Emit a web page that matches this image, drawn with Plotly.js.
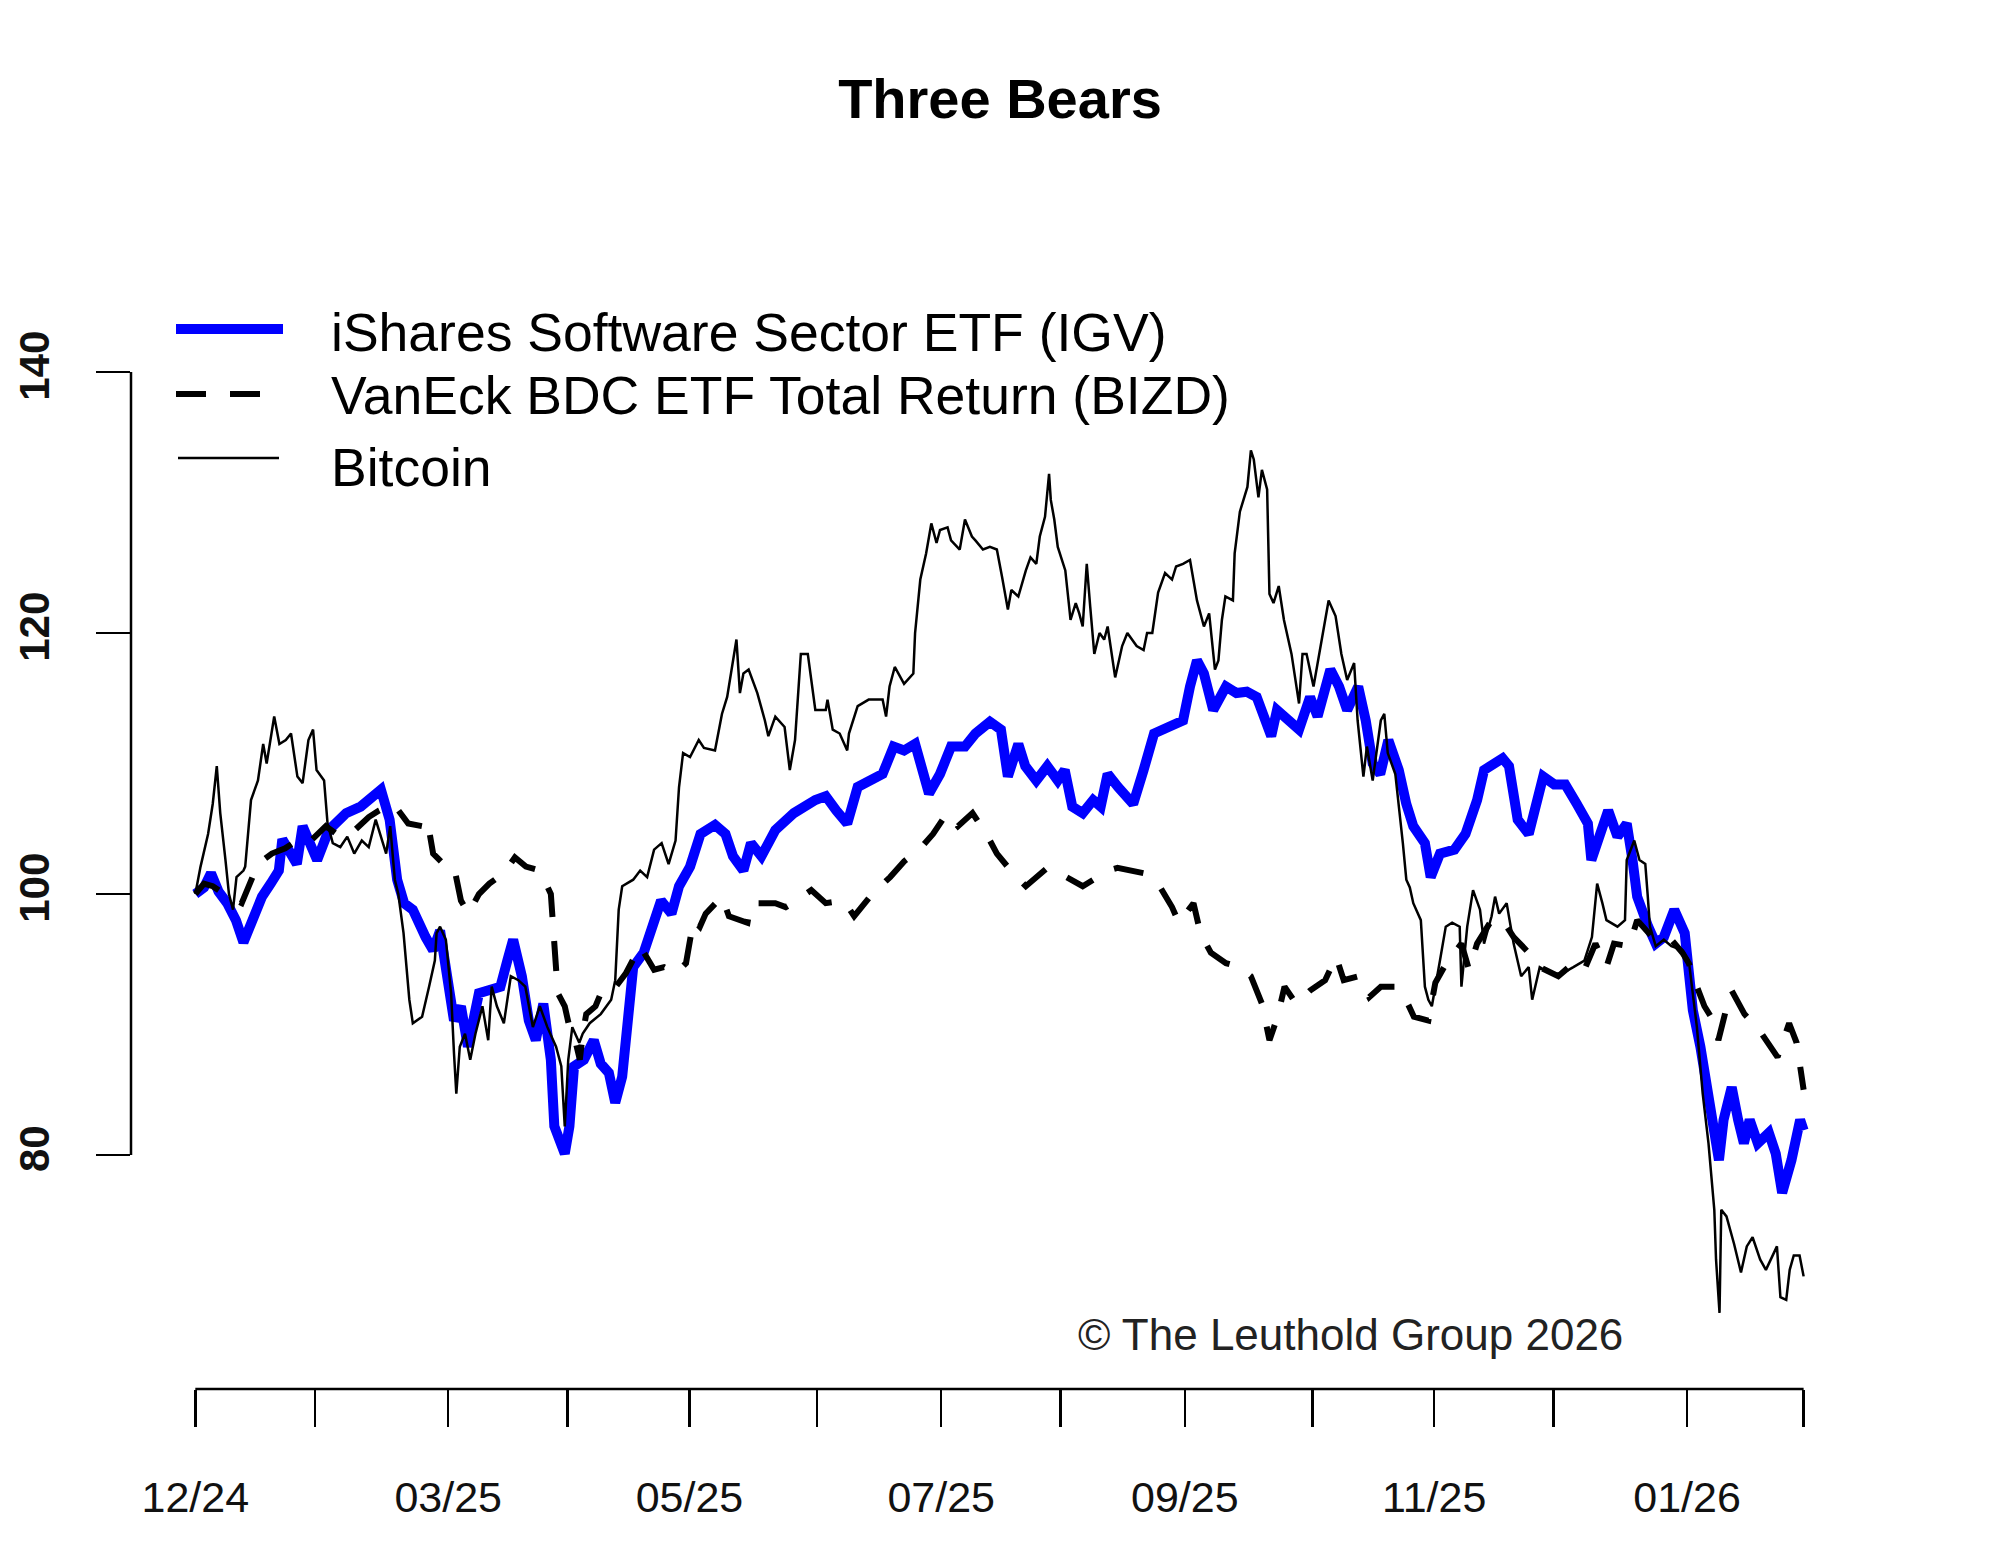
<!DOCTYPE html>
<html>
<head>
<meta charset="utf-8">
<script src="https://cdn.plot.ly/plotly-3.0.1.min.js"></script>
<style>html,body{margin:0;padding:0;background:#fff;}#chart{width:2000px;height:1556px;}</style>
</head>
<body>
<div id="chart"></div>
<script>
// x = trading-day index since 12/31/2024
const TICK_DAYS = [0, 20.6, 43.6, 64.2, 85.2, 107.2, 128.6, 149.2, 170.6, 192.6, 213.6, 234.2, 257.2, 277.3];
const TICK_TEXT = ["12/24", "", "03/25", "", "05/25", "", "07/25", "", "09/25", "", "11/25", "", "01/26", ""];
const Y_TICKS = [80, 100, 120, 140];

const IGV_DAY = [0,1.5,2.7,4,5.5,7,8.3,10,11.5,13,14.4,15,17.5,18.5,20,21,23,26,28.5,32,33.5,34.8,36,37.5,39.7,41,42.2,43.4,44.6,45.8,47,48.9,50.7,52.6,53.8,54.8,56.3,57.5,58.7,60,61.3,61.9,63.7,64.5,65.3,67,68.7,69.9,71.3,72.4,73.6,74.5,75.5,77.3,79,80.3,82.1,83.4,85.3,85.9,87.1,89.6,91.4,92.7,94.5,95.8,97.6,100,103.2,106.9,108.7,110.5,112.4,114.2,116.1,118.5,120.4,122.2,124.1,125.3,126.5,128.4,130.3,132.7,134.5,137,138.9,140.1,141.9,143.1,145,146.9,148.7,149.9,151.2,153,154.8,156.1,157.3,159.1,161.7,163.5,165.3,167.8,170.3,171.5,172.7,173.9,175.5,177.7,179.5,181.3,183,185.5,186.5,190.3,192.2,193.5,195.7,197.2,198.6,200.5,201.8,203,204.3,205.7,207.5,208.8,210,212,213,214.6,217.1,219,221,222.2,224.1,225.4,226.5,228,229.9,231.2,232.4,234.3,236.2,238.2,240.1,240.7,242,243.6,245.2,246.8,247.8,248.6,250.5,251.8,253.2,255,256.8,257.5,258.2,259.5,260.8,262,262.7,263.5,264.9,266,267,268,269.4,271.3,272.5,273.6,275.2,276.7,277.3];
const IGV_VAL = [100,100.5,101.6,100.2,99.3,98,96.3,98.2,99.8,100.8,101.8,104.2,102.3,105.2,103.5,102.6,104.9,106.2,106.7,108,105.7,101.1,99.3,98.8,96.7,95.7,97.2,93.7,90.3,91.4,88.3,92.4,92.6,92.9,94.9,96.5,93.7,90.3,88.8,91.6,87.3,82.2,80.1,82.2,86.8,87.3,88.8,87,86.3,84,86,91.1,94.4,95.5,97.5,99.5,98.5,100.6,102.1,102.9,104.6,105.3,104.6,102.9,101.8,103.9,102.9,104.9,106.2,107.2,107.5,106.4,105.4,108.2,108.7,109.2,111.3,111,111.5,109.2,107.7,109.2,111.3,111.3,112.3,113.2,112.6,109,111.5,109.8,108.7,109.8,108.7,109.5,106.7,106.2,107.2,106.7,109.2,108.2,106.9,109.5,112.3,112.8,113.3,115.9,117.9,116.9,114.1,115.9,115.4,115.5,115.1,112.1,114.1,112.6,115.1,113.6,117.2,115.9,114.1,115.9,113.3,110,109.2,111.8,109.5,106.9,105.2,103.9,101.3,103.1,103.4,104.6,107.2,109.5,110,110.4,109.8,105.7,104.6,107.2,109,108.4,108.4,106.9,105.4,102.6,104.4,106.4,104.4,105.4,102.6,99.8,97.5,96.2,96.7,98.8,97,94.4,91.1,88.3,84.7,82.2,79.6,82.7,85.2,82.7,80.9,82.7,80.9,81.7,80.1,77.1,79.6,82.7,81.9];

const BIZD_DAY = [0,1.5,3,5,8,10.8,13.2,15.5,17.5,19.5,22.5,25,27.5,29.9,31.7,34.2,36.7,39.1,40,41,42.8,44.6,45.8,47.1,48.9,50.7,53.2,55.1,57,59.4,61.3,61.9,62.5,63.7,64.5,65.6,66.3,66.8,67.4,69,70.4,72.5,74.2,76.7,79.1,80.8,82.8,84.6,85.9,87,88,90.8,92,95.2,95.8,100,101.8,103,106.2,108.7,111.8,113.6,116.7,119.8,122.2,124.8,127.2,129.6,131.5,134,136.4,138.2,140.6,143.2,146.9,148.1,153,157.4,159,163.5,166,168.4,169.6,172.1,173.3,175.1,177.7,180.1,182,183.9,185.2,186.6,187.8,189.8,192.2,194.8,196.7,198,200.5,202.4,204.4,206.8,208,210.1,212.6,213.8,215.7,218.3,219.6,221,223.5,225.4,227.3,229.9,231.8,235,237.6,239.5,241.4,243.3,244.6,247.2,248.6,251.2,254.5,256.4,257.5,258.9,260.2,262,262.6,263.9,264.9,267.1,269.6,272.8,274.8,276.1,276.8,277.3];
const BIZD_VAL = [100,100.8,100.6,100,99.3,102.3,103.1,103.5,104.1,103.9,105.2,104.4,104.9,105.9,106.4,106.9,105.4,105.2,105.7,103.1,102.3,102.1,99.5,98.5,100,100.8,101.6,102.8,102.1,101.8,100,95.5,92.4,91.4,89.8,88.6,87.3,89.3,90.8,91.4,92.9,92.9,93.9,96,94.2,94.4,93.9,94.7,98,97.5,98.5,99.8,98.3,97.8,99.3,99.3,99,99.3,100.3,99.3,99.5,98.3,100,101.3,102.5,103.4,104.6,106.2,105.2,106.2,104.6,103.1,101.8,100.6,102,101.8,100.6,101.8,102,101.6,100.8,99,97.8,99.3,97,95.5,94.7,94.4,93.7,91.6,88.8,90.6,92.9,91.6,92.6,93.4,95.2,93.4,93.7,92.1,92.9,92.9,92.6,90.6,90.3,93.2,94.7,96.2,94.2,96.2,98,98,96.7,95.5,94.4,93.7,94.7,94.2,96.2,94.4,96.2,96,98,96.7,96.5,95.5,94.7,92.9,91.4,90.1,88.8,91.1,92.6,90.8,89.6,87.5,90.1,88.6,86.3,85];

const BTC_DAY = [0,0.9,2.2,3,3.7,4.3,5.2,5.8,6.5,7.1,8.3,8.6,9.6,10.8,11.7,12.3,13.6,14.5,15.6,16.5,17.6,18.5,19.5,20.3,20.9,22.2,22.8,23.7,25,26.2,27.4,28.7,29.9,31.1,32.9,33.6,34.4,35,35.9,36.9,37.5,39.1,40.3,41.3,41.6,42.2,43.2,44.1,44.6,45,45.6,46.5,47.4,48.3,49.5,50.5,51.1,52,53.2,54.4,55.7,56.9,58.2,59.4,60.7,62.2,63.1,63.7,64.3,65,66.2,66.8,68,69.9,71.7,72.4,73,73.6,75.5,76.7,77.9,79.1,80.4,81.6,82.8,83.4,84.1,85.3,86.8,87.7,89.6,90.8,91.7,92.7,93.3,93.9,94.5,95.4,96.9,98.2,98.8,100,101.6,102.5,103.4,104.4,105.6,106.9,108.7,109,109.9,111.1,112.4,112.7,114.2,116.1,118.5,119.1,119.7,120.6,122.2,123.8,124.1,125,126,126.9,127.8,128.4,129.7,130.3,131.8,132.7,133.9,134.5,135.8,137,138.2,139.1,140.1,140.7,141.9,143.2,144,145,145.6,146.5,147.2,147.5,148.1,148.7,150,150.6,150.9,151.8,152.4,153,153.7,154.3,155,155.9,156.7,157.3,158.6,159.8,160.7,162.3,163.5,164.1,165,166,167.2,168.4,169.1,170.3,171.5,172.7,173.9,174.8,175.8,176.4,177,177.6,178.9,179.2,180.1,181.4,182,182.5,183.3,183.9,184.8,185.2,185.9,186.8,187.7,189,190.3,190.9,191.6,192.8,193.8,195.4,196.6,197.6,198.6,199.8,200.4,201.4,202,203,204.4,205,205.6,206.9,208.2,208.8,209.4,210,211.3,212,212.6,213.2,214.6,215.6,216.7,218,218.3,219.3,220.3,221.5,222.2,223.5,224.1,224.8,226.1,227.3,228.6,229.9,230.5,231.8,233.7,235.6,237.6,239.5,240.8,241.7,242.6,243.3,245.2,246.5,246.8,248.1,249,250,250.4,250.8,251.8,253.2,254.5,256.4,257.5,258.9,259.9,260.9,261.9,262.2,262.8,263.1,264,265.3,266.5,267.5,268.5,269.8,270.8,271.7,272.7,273.3,274.3,274.9,275.6,276.6,277.3];
const BTC_VAL = [100,102.1,104.6,106.9,109.8,106.2,102.6,100,98.8,101.3,101.8,102.1,107.2,108.7,111.5,110,113.6,111.5,111.8,112.3,109,108.5,111.8,112.6,109.5,108.7,105.4,103.9,103.6,104.4,103.1,104.1,103.6,105.7,103.1,105.2,101.1,100,97,91.9,90.1,90.6,92.9,94.9,97,97.5,96.5,92.4,87.8,84.7,88.3,89.3,87.3,89.3,91.4,88.8,92.9,91.4,90.1,93.7,93.4,92.9,89.8,91.4,89.8,88.3,86.8,82.2,87.3,89.8,88.6,89.3,90.1,90.8,91.9,93.4,98.8,100.6,101.1,101.8,101.3,103.4,103.9,102.3,104.1,108.2,110.8,110.5,111.8,111.2,111,113.8,115.1,117.9,119.5,115.4,116.9,117.2,115.4,113.3,112.1,113.6,112.8,109.5,111.8,118.4,118.4,114.1,114.1,114.9,112.6,112.3,111,112.3,114.4,114.9,114.9,113.6,115.9,117.4,116.1,116.9,120,124.1,126.1,128.4,126.9,127.9,128.1,127.1,126.4,128.7,127.4,127.1,126.4,126.6,126.4,124.3,121.8,123.3,122.8,124.8,125.8,125.3,127.4,128.9,132.2,130.2,128.7,126.6,124.8,122.3,121,122.3,121.5,120.5,125.3,122,118.4,120,119.5,120.5,116.6,119,120,119,118.7,120,120,123.1,124.6,124.1,125.1,125.3,125.6,122.5,120.5,121.5,117.2,117.9,121,122.8,122.5,126.1,129.3,131.2,134,133.3,130.4,132.5,131,123,122.3,123.6,121,118.4,114.6,118.4,118.4,115.9,118.4,122.5,121.3,118.4,116.4,117.7,113.3,109,111.3,108.7,113.3,113.8,110.8,109.2,103.9,101.1,100.5,99.3,98,92.9,91.9,91.4,94.9,97.5,97.8,97.5,92.9,97.5,100.3,98.8,96.2,98.3,99.8,98.5,99.3,96.2,93.7,94.4,91.9,94.4,93.9,93.9,94.4,94.9,96.7,100.8,99.3,98,97.5,98,102.6,104.1,102.6,102.3,100,97.5,96,96.5,96,95.7,94.9,89.8,84.7,80.9,75.8,72,67.9,75.8,75.3,73.2,71,73,73.7,72,71.2,72,73,69.1,68.9,71.2,72.3,72.3,70.7];

const NAMES = ["iShares Software Sector ETF (IGV)", "VanEck BDC ETF Total Return (BIZD)", "Bitcoin"];

const FONT = "Liberation Sans, Arial, Helvetica, sans-serif";
const DASH = "30px,24px";

// layout helpers (pixel -> paper)
const Y_MIN = 62.07, Y_MAX = 141;
const L = 131, R = 1868, B = 1389;
const T = Math.round(B - (Y_MAX - Y_MIN) * 13.05);
const PX = x => (x - L) / (R - L);
const PY = y => (B - y) / (B - T);

const traces = [
  {x: IGV_DAY, y: IGV_VAL, type: 'scatter', mode: 'lines', name: NAMES[0],
   line: {color: '#0000FF', width: 10}},
  {x: BIZD_DAY, y: BIZD_VAL, type: 'scatter', mode: 'lines', name: NAMES[1],
   line: {color: '#000000', width: 6, dash: DASH}},
  {x: BTC_DAY, y: BTC_VAL, type: 'scatter', mode: 'lines', name: NAMES[2],
   line: {color: '#000000', width: 2.5}}
];

const legendRows = [
  {x0: 176, x1: 283, y: 329, ty: 333, color: '#0000FF', width: 10, dash: 'solid'},
  {x0: 176, x1: 263, y: 394, ty: 395, color: '#000000', width: 6, dash: DASH},
  {x0: 178, x1: 279, y: 458, ty: 467, color: '#000000', width: 2.5, dash: 'solid'}
];

const shapes = [
  {type: 'line', xref: 'x', yref: 'paper', x0: TICK_DAYS[0], x1: TICK_DAYS[TICK_DAYS.length - 1], y0: 0, y1: 0,
   line: {color: '#000', width: 2.5}},
  {type: 'line', xref: 'paper', yref: 'y', x0: 0, x1: 0, y0: Y_TICKS[0], y1: Y_TICKS[Y_TICKS.length - 1],
   line: {color: '#000', width: 2.5}}
];
const annotations = [];
legendRows.forEach((r, i) => {
  shapes.push({type: 'line', xref: 'paper', yref: 'paper', x0: PX(r.x0), x1: PX(r.x1), y0: PY(r.y), y1: PY(r.y),
    line: {color: r.color, width: r.width, dash: r.dash}});
  annotations.push({xref: 'paper', yref: 'paper', x: PX(329), y: PY(r.ty), xanchor: 'left', yanchor: 'middle',
    text: NAMES[i], showarrow: false, font: {family: FONT, size: 53.5, color: '#000'}});
});
annotations.push({xref: 'paper', yref: 'paper', x: PX(1350), y: PY(1334), xanchor: 'center', yanchor: 'middle',
  text: '© The Leuthold Group 2026', showarrow: false, font: {family: FONT, size: 44, color: '#222'}});

const layout = {
  width: 2000, height: 1556,
  margin: {l: L, r: 2000 - R, t: T, b: 1556 - B, pad: 0},
  paper_bgcolor: '#fff', plot_bgcolor: '#fff',
  showlegend: false,
  title: {text: 'Three Bears', x: 0.5, xanchor: 'center', y: 1 - 98 / 1556, yanchor: 'middle',
    font: {family: FONT, size: 56, color: '#000', weight: 'bold'}},
  xaxis: {
    range: [-11.09, 288.4], tickmode: 'array', tickvals: TICK_DAYS, ticktext: TICK_TEXT,
    ticks: 'outside', ticklen: 37, tickwidth: 2.5, tickcolor: '#000',
    showgrid: false, zeroline: false, showline: false,
    ticklabelstandoff: 33,
    tickfont: {family: FONT, size: 43, color: '#111'}
  },
  yaxis: {
    range: [Y_MIN, Y_MAX], tickmode: 'array', tickvals: Y_TICKS,
    ticks: 'outside', ticklen: 34, tickwidth: 2.5, tickcolor: '#000',
    showgrid: false, zeroline: false, showline: false,
    tickangle: -90, ticklabelstandoff: 30,
    tickfont: {family: FONT, size: 42, color: '#111', weight: 'bold'}
  },
  shapes: shapes,
  annotations: annotations
};

Plotly.newPlot('chart', traces, layout, {displayModeBar: false, staticPlot: true});
</script>
</body>
</html>
